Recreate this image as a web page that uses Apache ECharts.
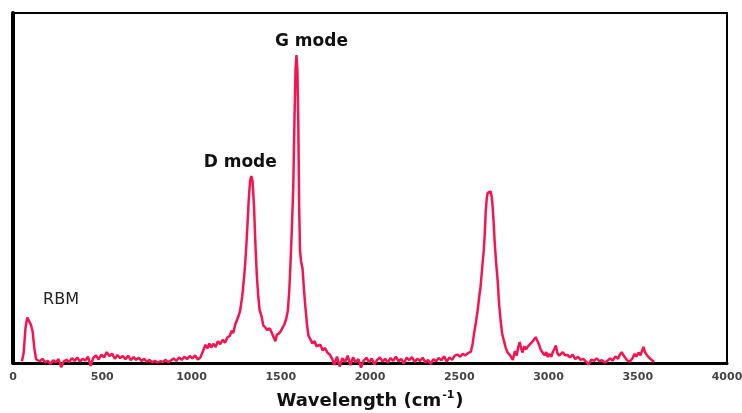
<!DOCTYPE html>
<html>
<head>
<meta charset="utf-8">
<script src="https://cdn.jsdelivr.net/npm/echarts@6/dist/echarts.min.js"></script>
<style>
  html, body { margin: 0; padding: 0; background: #fff; }
  #chart { width: 742px; height: 413px; }
</style>
</head>
<body>
<div id="chart"></div>
<script>
// Raman shift (cm-1)
const shift = [
  50, 60, 70, 80, 90, 100, 110, 120, 130, 140,
  150, 165, 180, 195, 210, 225, 240, 255, 270, 285, 300, 315, 330, 345, 360, 375, 390, 405, 420, 435,
  450, 465, 480, 495, 510, 525, 540, 555, 570, 585, 600, 615, 630, 645, 660, 675, 690, 705, 720, 735,
  750, 765, 780, 795, 810, 825, 840, 855, 870, 885, 900, 915, 930, 945, 960, 975, 990, 1005, 1020, 1035,
  1050, 1065, 1078, 1090, 1100, 1110, 1122, 1135, 1148, 1161, 1175, 1188, 1200, 1215, 1225, 1234, 1245, 1255, 1262, 1272,
  1284, 1292, 1301, 1310, 1320, 1328, 1335, 1342, 1350, 1358, 1366, 1374, 1382, 1392, 1402, 1412, 1425, 1438, 1450, 1460,
  1470, 1478, 1490, 1500, 1510, 1520, 1530, 1540, 1548, 1555, 1562, 1570, 1577, 1583, 1588, 1593, 1598, 1603, 1608, 1614,
  1622, 1630, 1638, 1647, 1655, 1665, 1677, 1690, 1700, 1711, 1722, 1735, 1748, 1762, 1775, 1788, 1800, 1815, 1830, 1845,
  1860, 1875, 1890, 1905, 1920, 1935, 1950, 1965, 1980, 1995, 2010, 2025, 2040, 2055, 2070, 2085, 2100, 2115, 2130, 2145,
  2160, 2175, 2190, 2205, 2220, 2235, 2250, 2265, 2280, 2295, 2310, 2325, 2340, 2355, 2370, 2385, 2400, 2415, 2430, 2445,
  2460, 2475, 2490, 2505, 2520, 2535, 2550, 2565, 2575, 2583, 2593, 2603, 2612, 2620, 2628, 2637, 2643, 2648, 2654, 2659,
  2667, 2676, 2682, 2687, 2693, 2698, 2706, 2715, 2723, 2732, 2740, 2749, 2760, 2771, 2785, 2800, 2812, 2822, 2830, 2839,
  2847, 2855, 2865, 2874, 2883, 2893, 2903, 2915, 2928, 2938, 2948, 2957, 2967, 2978, 2988, 2996, 3005, 3015, 3025, 3035,
  3041, 3050, 3060, 3069, 3080, 3092, 3108, 3120, 3135, 3150, 3165, 3180, 3195, 3210, 3225, 3240, 3255, 3270, 3285, 3300,
  3315, 3330, 3345, 3360, 3375, 3390, 3400, 3410, 3420, 3430, 3440, 3455, 3470, 3482, 3492, 3505, 3515, 3525, 3532, 3540,
  3550, 3560, 3570, 3580, 3592
];

// intensity (arb. units, 0-100 scale)
const intensity = [
  0.5, 3, 10, 13, 13, 11, 9, 4, 1, 1.5,
  0.5, 1.2, 0.2, 0.6, -0.3, 0.8, 0.2, 1.1, -1.2, 0.5, 0.9, 0.3, 1.4, 0.6, 1.6, 0.4, 1.2, 0.7, 1.8, -0.8,
  1.5, 2.2, 1.0, 2.4, 1.6, 3.1, 2.0, 2.7, 1.2, 2.3, 1.4, 2.0, 1.1, 2.1, 0.8, 1.7, 0.9, 1.5, 0.6, 1.2,
  0.4, 0.9, 0.2, 0.6, 0.1, 0.5, 0.3, 0.9, 0.2, 0.7, 1.3, 0.6, 1.6, 0.9, 1.8, 1.1, 2.0, 1.3, 2.2, 1.0,
  1.6, 3.5, 5.2, 4.2, 5.6, 4.4, 5.5, 4.6, 6.2, 5.4, 6.6, 5.8, 7.2, 7.8, 9.2, 8.6, 11, 12.3, 13.2, 14.8,
  19, 23, 28.5, 36, 46, 52, 53.4, 52, 45, 34, 25, 19, 15, 13.5, 10.8, 10.2, 9.4, 9.9, 8.6, 8.9,
  6.2, 8.1, 8.4, 9.1, 9.6, 11, 12.5, 15, 21, 29, 38, 50, 70, 84, 88, 84, 70, 45, 32, 29,
  27, 21, 16, 11, 7.8, 6.9, 5.6, 6.2, 4.8, 4.5, 5.2, 3.6, 4.3, 2.9, 2.4, 1.2, -0.5, 1.8, -1.0, 1.4,
  0.3, 2.1, -0.6, 1.6, 0.2, 1.1, -1.3, 0.7, 1.5, 0.2, 1.3, -0.4, 0.9, 1.6, 0.4, 1.2, 0.1, 1.4, 0.6, 1.8,
  0.5, 1.2, -0.2, 1.5, 0.8, 1.7, 0.3, 1.2, 0.6, 1.5, 0.2, 0.9, -0.3, 1.1, 0.5, 1.4, 0.8, 1.9, 0.4, 1.6,
  0.9, 2.1, 2.4, 1.8, 2.6, 2.2, 2.9, 3.2, 5.5, 8.5, 11.5, 15, 19, 22, 27, 32, 37, 43, 47, 48.6,
  49, 49, 47.5, 44.6, 40, 35, 29, 23.7, 17, 12, 8.5, 6.6, 4.4, 3, 2.2, 0.9, 3.4, 2.1, 4.5, 6,
  4.1, 3, 4.8, 3.9, 4.6, 5.2, 5.0, 6.4, 7.4, 6.3, 5.1, 3.7, 3.0, 2.2, 3.1, 1.7, 2.6, 1.8, 3.2, 4.2,
  5, 2.8, 2.1, 1.7, 3.1, 2.2, 2.3, 1.6, 2.4, 1.1, 1.8, 0.9, 1.2, 0.4, -0.4, 1.0, 0.6, 1.3, 0.5, 0.8,
  0.1, 0.6, 1.3, 0.7, 1.9, 1.2, 2.4, 3.1, 2.2, 2.6, 0.8, 0.4, 1.3, 2.6, 1.8, 3.0, 2.2, 3.6, 4.6, 3.2,
  2.3, 2.8, 1.2, 1.6, 0.3
];

// peak annotations: [text, shift, intensity] at label centre
const peakNames = ['G mode', 'D mode', 'RBM'];
const peakShift = [1672, 1273, 269];
const peakLevel = [91.7, 57.4, 18];

const chart = echarts.init(document.getElementById('chart'));

const lineData = shift.map((x, i) => [x, intensity[i]]);

const labelPoints = peakNames.map((name, i) => ({
  name: name,
  coord: [peakShift[i], peakLevel[i]],
  label: i === 2
    ? { fontWeight: 'normal', fontSize: 16, color: '#222' }
    : { fontWeight: 'bold', fontSize: 17, color: '#111' }
}));

const option = {
  animation: false,
  grid: {
    left: 13,
    right: 15,
    top: 13,
    bottom: 50,
    outerBoundsMode: 'none',
    show: true,
    borderColor: '#000',
    borderWidth: 2,
    backgroundColor: '#fff'
  },
  xAxis: {
    type: 'value',
    min: 0,
    max: 4000,
    interval: 500,
    name: '{a|Wavelength (cm}{s|-1}{a|)}',
    nameLocation: 'middle',
    nameGap: 27,
    nameTextStyle: {
      rich: {
        a: { fontFamily: 'DejaVu Sans', fontWeight: 'bold', fontSize: 18, color: '#111', lineHeight: 22 },
        s: { fontFamily: 'DejaVu Sans', fontWeight: 'bold', fontSize: 11, color: '#111', lineHeight: 22, verticalAlign: 'top', padding: [0, 1, 8, 1] }
      }
    },
    axisLine: { show: true, lineStyle: { color: '#000', width: 3 } },
    axisTick: { show: false },
    splitLine: { show: false },
    axisLabel: {
      showMaxLabel: true,
      margin: 9,
      fontFamily: 'DejaVu Sans',
      fontWeight: 'bold',
      fontSize: 11,
      color: '#444',
      formatter: (v) => String(v)
    }
  },
  yAxis: {
    type: 'value',
    min: 0,
    max: 100,
    axisLine: { show: true, lineStyle: { color: '#000', width: 4 } },
    axisTick: { show: false },
    axisLabel: { show: false },
    splitLine: { show: false }
  },
  series: [
    {
      type: 'line',
      data: lineData,
      showSymbol: false,
      clip: false,
      lineStyle: { color: '#f7134f', width: 2.5 },
      markPoint: {
        symbol: 'circle',
        symbolSize: 0,
        label: {
          show: true,
          position: 'inside',
          fontFamily: 'DejaVu Sans',
          formatter: '{b}'
        },
        data: labelPoints
      }
    }
  ]
};

chart.setOption(option);
</script>
</body>
</html>
